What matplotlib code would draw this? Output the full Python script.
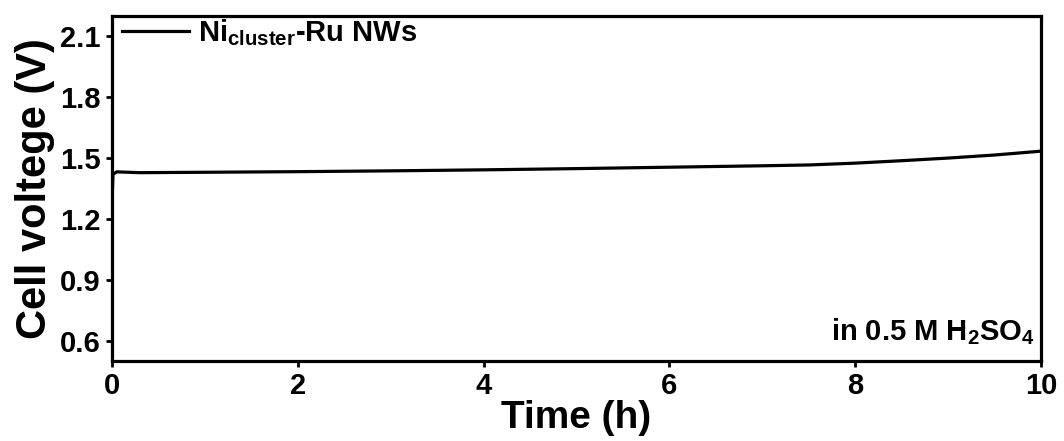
import matplotlib
matplotlib.use('Agg')
import matplotlib.pyplot as plt

plt.rcParams['font.family'] = ['Liberation Sans', 'DejaVu Sans']
plt.rcParams['font.weight'] = 'bold'
plt.rcParams['mathtext.fontset'] = 'custom'
plt.rcParams['mathtext.bf'] = 'Liberation Sans:bold'
plt.rcParams['mathtext.rm'] = 'Liberation Sans:bold'
plt.rcParams['mathtext.default'] = 'bf'

# chronopotentiometry data
time_h = [0, 0.002, 0.01, 0.05, 0.3, 1, 2, 3, 4, 5, 6, 7, 7.5, 8, 8.5, 9, 9.5, 10]
voltage = [1.04, 1.30, 1.42, 1.432, 1.428, 1.430, 1.433, 1.437, 1.442, 1.448,
           1.455, 1.462, 1.466, 1.475, 1.487, 1.500, 1.515, 1.534]

x_ticks = [0, 2, 4, 6, 8, 10]
y_ticks = [0.6, 0.9, 1.2, 1.5, 1.8, 2.1]

fig = plt.figure(figsize=(10.64, 4.41), dpi=100)
ax = fig.add_axes([0.1053, 0.1814, 0.8731, 0.7823])

ax.plot(time_h, voltage, color='black', linewidth=2.3,
        label=r'Ni$_{cluster}$-Ru NWs')

ax.set_xlim(0, 10)
ax.set_ylim(0.5, 2.2)
ax.set_xticks(x_ticks)
ax.set_yticks(y_ticks)
ax.set_xticklabels([str(t) for t in x_ticks])
ax.set_yticklabels(['%.1f' % v for v in y_ticks])

for s in ax.spines.values():
    s.set_linewidth(2.3)
ax.tick_params(direction='out', length=4, width=2, labelsize=21, pad=4)

ax.set_xlabel('Time (h)', fontsize=28, fontweight='bold', labelpad=0)
ax.set_ylabel('Cell voltege (V)', fontsize=30, fontweight='bold', labelpad=4)

ax.legend(loc='upper left', bbox_to_anchor=(0.008, 1.005), frameon=False,
          fontsize=21, handlelength=2.3, handletextpad=0.3,
          borderaxespad=0, borderpad=0.1)

ax.text(0.993, 0.04, r'in 0.5 M H$_2$SO$_4$', transform=ax.transAxes,
        ha='right', va='bottom', fontsize=21, fontweight='bold')

fig.savefig('out.png', dpi=100)
